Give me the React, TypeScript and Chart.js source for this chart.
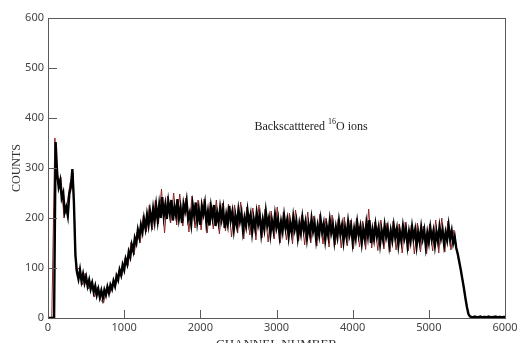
import { useEffect, useRef } from "react";
import { Chart, registerables } from "chart.js";

Chart.register(...registerables);

// Channel grid of the black trace (first channel, spacing)
const BLACK_START = 0;
const BLACK_STEP = 20;
// Counts (black trace)
const blackCounts = [
  0, 0, 0, 0, 0, 352, 290, 262, 275, 240,
  250, 212, 222, 205, 248, 262, 298, 232, 125, 92,
  78, 96, 74, 88, 70, 82, 64, 76, 58, 70,
  52, 64, 46, 58, 42, 55, 40, 56, 46, 62,
  50, 66, 58, 74, 64, 84, 76, 96, 86, 106,
  96, 118, 108, 132, 122, 146, 134, 160, 150, 176,
  162, 186, 172, 198, 180, 206, 186, 212, 190, 218,
  194, 224, 196, 226, 200, 242, 204, 226, 198, 232,
  210, 236, 195, 222, 206, 238, 200, 219, 190, 228,
  214, 234, 198, 210, 188, 226, 205, 231, 193, 216,
  186, 224, 208, 228, 190, 212, 185, 222, 202, 226,
  184, 210, 192, 220, 198, 218, 180, 206, 188, 224,
  196, 212, 178, 204, 186, 216, 194, 210, 176, 200,
  184, 214, 190, 206, 172, 198, 180, 210, 188, 204,
  170, 196, 178, 212, 186, 200, 168, 194, 176, 206,
  182, 198, 166, 192, 174, 204, 180, 196, 164, 190,
  172, 202, 178, 194, 162, 188, 170, 200, 176, 192,
  160, 186, 168, 198, 174, 190, 158, 184, 166, 196,
  172, 188, 157, 183, 165, 195, 171, 186, 155, 181,
  163, 193, 169, 185, 154, 180, 162, 192, 168, 184,
  152, 178, 160, 190, 166, 182, 151, 177, 159, 189,
  165, 196, 150, 176, 158, 186, 164, 180, 149, 175,
  157, 185, 163, 179, 148, 174, 156, 184, 162, 178,
  147, 173, 155, 183, 161, 177, 146, 172, 154, 182,
  160, 176, 145, 171, 153, 181, 159, 175, 144, 170,
  152, 180, 158, 174, 146, 172, 154, 182, 160, 176,
  148, 171, 156, 184, 158, 174, 150, 162, 140, 128,
  112, 96, 78, 60, 40, 22, 8, 3, 2, 1,
  3, 2, 1, 2, 3, 1, 2, 2, 1, 3,
  2, 1, 2, 2, 3, 1, 2, 2, 1, 2, 2,
];

// Channel grid of the red trace
const RED_START = 10;
const RED_STEP = 40;
// Counts (red trace, the spikes around the black band)
const redCounts = [
  0, 0, 360, 268, 282, 200, 228, 270, 290, 95,
  100, 66, 90, 58, 74, 42, 62, 36, 30, 62,
  48, 72, 66, 95, 84, 120, 104, 152, 126, 172,
  150, 205, 172, 226, 176, 236, 188, 258, 170, 244,
  190, 250, 186, 248, 184, 240, 172, 244, 180, 236,
  176, 238, 170, 232, 178, 236, 168, 230, 174, 228,
  162, 226, 170, 232, 158, 222, 166, 220, 156, 226,
  160, 218, 152, 214, 158, 222, 150, 212, 156, 210,
  148, 216, 154, 206, 146, 212, 150, 204, 144, 208,
  148, 200, 142, 206, 146, 198, 140, 202, 144, 196,
  138, 200, 142, 194, 137, 218, 140, 192, 135, 196,
  138, 190, 132, 194, 136, 188, 130, 192, 134, 186,
  128, 190, 132, 184, 128, 188, 134, 196, 130, 200,
  132, 194, 136, 176, 132, 102, 70, 30, 4, 2,
  3, 1, 2, 2, 3, 1, 2, 3, 2, 2,
];

const xTicks = [0, 1000, 2000, 3000, 4000, 5000, 6000];
const yTicks = [0, 100, 200, 300, 400, 500, 600];

const X_TITLE = "CHANNEL NUMBER";
const Y_TITLE = "COUNTS";
const NOTE_MAIN = "Backscatttered ";
const NOTE_SUP = "16";
const NOTE_TAIL = "O ions";
const NOTE_CHANNEL = 2710;
const NOTE_COUNTS = 376;

const toPoints = (start: number, step: number, counts: number[]) =>
  counts.map((c, i) => ({ x: start + i * step, y: c }));

const AXIS_COLOR = "#5a5a5a";
const SERIF = "'Liberation Serif', 'DejaVu Serif', serif";
const SANS = "'Noto Sans', 'Open Sans', sans-serif";

const framePlugin = {
  id: "frameAndText",
  afterDraw(chart: any) {
    const { ctx, chartArea: a, scales } = chart;
    ctx.save();
    ctx.strokeStyle = AXIS_COLOR;
    ctx.lineWidth = 1;
    ctx.strokeRect(
      Math.round(a.left) + 0.5,
      Math.round(a.top) + 0.5,
      Math.round(a.right - a.left),
      Math.round(a.bottom - a.top)
    );
    ctx.beginPath();
    for (const v of yTicks) {
      const y = Math.round(scales.y.getPixelForValue(v)) + 0.5;
      ctx.moveTo(a.left, y);
      ctx.lineTo(a.left + 9, y);
    }
    for (const v of xTicks) {
      const x = Math.round(scales.x.getPixelForValue(v)) + 0.5;
      ctx.moveTo(x, a.bottom);
      ctx.lineTo(x, a.bottom - 8);
    }
    ctx.stroke();

    // axis titles
    ctx.fillStyle = "#333";
    ctx.font = `13px ${SERIF}`;
    ctx.textAlign = "center";
    ctx.textBaseline = "alphabetic";
    ctx.fillText(X_TITLE, (a.left + a.right) / 2, a.bottom + 30);

    ctx.save();
    ctx.translate(16.5, (a.top + a.bottom) / 2);
    ctx.rotate(-Math.PI / 2);
    ctx.font = `12px ${SERIF}`;
    ctx.textBaseline = "middle";
    ctx.fillText(Y_TITLE, 0, 0);
    ctx.restore();

    // annotation
    const nx = scales.x.getPixelForValue(NOTE_CHANNEL);
    const ny = scales.y.getPixelForValue(NOTE_COUNTS);
    ctx.fillStyle = "#222";
    ctx.textAlign = "left";
    ctx.textBaseline = "alphabetic";
    ctx.font = `12px ${SERIF}`;
    ctx.fillText(NOTE_MAIN, nx, ny);
    let w = ctx.measureText(NOTE_MAIN).width;
    ctx.font = `8px ${SERIF}`;
    ctx.fillText(NOTE_SUP, nx + w, ny - 6);
    w += ctx.measureText(NOTE_SUP).width;
    ctx.font = `12px ${SERIF}`;
    ctx.fillText(NOTE_TAIL, nx + w, ny);
    ctx.restore();
  },
};

export default function App() {
  const ref = useRef<HTMLCanvasElement>(null);

  useEffect(() => {
    if (!ref.current) return;
    const chart = new Chart(ref.current, {
      type: "line",
      data: {
        datasets: [
          {
            data: toPoints(BLACK_START, BLACK_STEP, blackCounts),
            borderColor: "#000000",
            borderWidth: 2.4,
            pointRadius: 0,
            tension: 0,
            order: 0,
          },
          {
            data: toPoints(RED_START, RED_STEP, redCounts),
            borderColor: "#8c2424",
            borderWidth: 1,
            pointRadius: 0,
            tension: 0,
            order: 1,
          },
        ],
      },
      options: {
        animation: false,
        responsive: false,
        layout: { padding: { top: 18, right: 13, left: 0, bottom: 0 } },
        plugins: {
          legend: { display: false },
          tooltip: { enabled: false },
        },
        scales: {
          x: {
            type: "linear",
            min: 0,
            max: 6000,
            afterBuildTicks: (s: any) => {
              s.ticks = xTicks.map((v) => ({ value: v }));
            },
            afterFit: (s: any) => {
              s.height = 25;
              s.paddingLeft = 0;
              s.paddingRight = 0;
            },
            grid: { display: false, drawTicks: false },
            border: { display: false },
            ticks: {
              padding: 3,
              color: "#444",
              font: { family: SANS, size: 11 },
              maxRotation: 0,
              autoSkip: false,
              callback: (v: any) => String(v),
            },
          },
          y: {
            type: "linear",
            min: 0,
            max: 600,
            afterBuildTicks: (s: any) => {
              s.ticks = yTicks.map((v) => ({ value: v }));
            },
            afterFit: (s: any) => {
              s.width = 48;
              s.paddingTop = 0;
              s.paddingBottom = 0;
            },
            grid: { display: false, drawTicks: false },
            border: { display: false },
            ticks: {
              padding: 4,
              color: "#444",
              font: { family: SANS, size: 11 },
              autoSkip: false,
              callback: (v: any) => String(v),
            },
          },
        },
      },
      plugins: [framePlugin],
    });
    return () => chart.destroy();
  }, []);

  return (
    <div style={{ position: "fixed", left: 0, top: 0, width: 518, height: 343, background: "#fff" }}>
      <canvas ref={ref} width={518} height={343} style={{ display: "block" }} />
    </div>
  );
}
